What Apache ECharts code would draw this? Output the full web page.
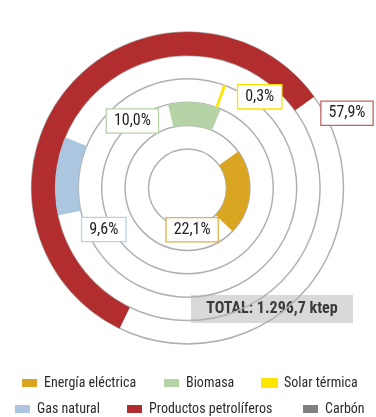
<!DOCTYPE html>
<html>
<head>
<meta charset="utf-8">
<script src="https://cdn.jsdelivr.net/npm/echarts@6/dist/echarts.min.js"></script>
<style>
html, body { margin: 0; padding: 0; background: #fff; }
#chart { width: 376px; height: 417px; }
</style>
</head>
<body>
<div id="chart"></div>
<script>
// rings, from the inside out
const categories = ['Energía eléctrica', 'Biomasa', 'Solar térmica', 'Gas natural', 'Productos petrolíferos'];
const shares = [22.1, 10.0, 0.3, 9.6, 57.9];        // % of final consumption
const startShares = [57.9, 39.2, 48.2, 14.5, 0];    // where each arc begins (% of a turn)
const legendNames = ['Energía eléctrica', 'Biomasa', 'Solar térmica', 'Gas natural', 'Productos petrolíferos', 'Carbón'];
const colors = ['#daa622', '#b6d3a8', '#ffe500', '#abc6de', '#b22d2d', '#808080'];
const labelBorders = ['#e2b048', '#b6d3a8', '#ffe000', '#b9d0e6', '#c46262'];
const total = 1296.7;

const FONT = "'Roboto Condensed', 'Liberation Sans Narrow', 'DejaVu Sans Condensed', sans-serif";

const chart = echarts.init(document.getElementById('chart'));

// where the callout sits, per ring
const labelPos = ['end', 'start', 'end', 'start', 'end'];
const labelOffset = [[-54, 3], [-8, 4], [12, -1.5], [55, 11.5], [14, 5.5]];

function fmt(v) {
    return v.toFixed(1).replace('.', ',') + '%';
}

let series = [{
    name: 'offset',
    type: 'bar',
    coordinateSystem: 'polar',
    stack: 'ring',
    barWidth: '100%',
    itemStyle: { color: 'transparent' },
    silent: true,
    data: startShares
}];

legendNames.forEach((name, i) => {
    let idx = categories.indexOf(name);
    let data = categories.map((c, j) => (j === idx ? shares[j] : '-'));
    // the solar slice is a hairline, give it a bit of body
    let thin = idx >= 0 && shares[idx] < 1;
    series.push({
        name: name,
        type: 'bar',
        coordinateSystem: 'polar',
        stack: 'ring',
        barWidth: '100%',
        itemStyle: thin ? { color: colors[i], borderColor: colors[i], borderWidth: 1 } : { color: colors[i] },
        label: idx < 0 ? { show: false } : {
            show: true,
            position: labelPos[idx],
            offset: labelOffset[idx],
            rotate: 0,
            formatter: p => fmt(p.value),
            fontFamily: FONT,
            fontSize: 16,
            color: '#222',
            backgroundColor: '#fff',
            borderColor: labelBorders[idx],
            borderWidth: 1.3,
            padding: [4, 7, 3, 7]
        },
        data: data
    });
});

// legend: two rows of three
const legendSpots = [[17, 371], [159, 371], [256, 371], [10, 397], [122, 397], [298, 397]];
let legends = legendNames.map((name, i) => ({
    data: [name],
    left: legendSpots[i][0],
    top: legendSpots[i][1],
    icon: 'rect',
    itemWidth: 15,
    itemHeight: 8,
    selectedMode: false,
    textStyle: { fontFamily: FONT, fontSize: 14, color: '#2b2b2b', padding: [0, 0, 0, 2] }
}));

chart.setOption({
    animation: false,
    legend: legends,
    polar: {
        center: [187.5, 188],
        radius: [39, 156]
    },
    angleAxis: {
        type: 'value',
        min: 0,
        max: 100,
        startAngle: -115.8,
        clockwise: true,
        axisLine: { show: false },
        axisTick: { show: false },
        axisLabel: { show: false },
        splitLine: { show: false }
    },
    radiusAxis: {
        type: 'category',
        data: categories,
        axisLine: { show: false },
        axisTick: { show: false, interval: 0 },
        axisLabel: { show: false, interval: 0 },
        splitLine: { show: true, interval: 0, lineStyle: { color: '#b0b0b0', width: 1.5 } }
    },
    graphic: [{
        type: 'group',
        left: 191,
        top: 295,
        children: [{
            type: 'rect',
            shape: { x: 0, y: 0, width: 162, height: 28 },
            style: { fill: '#d9d9d9' }
        }, {
            type: 'text',
            x: 81,
            y: 14,
            style: {
                text: 'TOTAL: ' + total.toFixed(1).replace('.', ',').replace(/^(\d)(\d{3})/, '$1.$2') + ' ktep',
                align: 'center',
                verticalAlign: 'middle',
                font: 'bold 16px ' + FONT,
                fill: '#3a3a3a'
            }
        }]
    }],
    series: series
});

window.addEventListener('resize', () => {
    chart.resize();
});
</script>
</body>
</html>
